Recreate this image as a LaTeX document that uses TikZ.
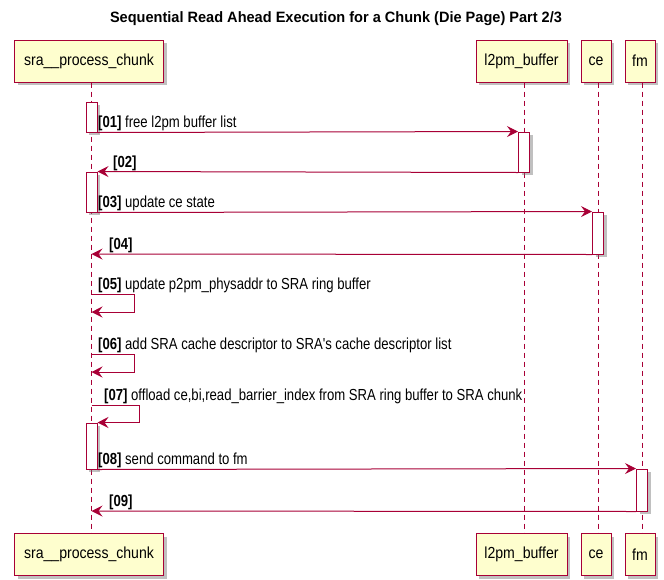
\documentclass[tikz,border=0pt]{standalone}
\usepackage{fontspec}
\setmainfont{Liberation Sans}
\newfontfamily\partfont[FakeStretch=0.88]{Liberation Sans}
\newfontfamily\lblfont[FakeStretch=0.82]{Liberation Sans}
\newfontfamily\titlefont[FakeStretch=0.97]{Liberation Sans}
\usetikzlibrary{arrows.meta,shadows}
\definecolor{pu}{HTML}{A80036}
\definecolor{pufill}{HTML}{FEFECE}
\begin{document}
\begin{tikzpicture}[x=1pt,y=-1pt,
  shad/.style={drop shadow={shadow xshift=3pt,shadow yshift=-3pt,fill=black!55,opacity=0.45}},
  part/.style={draw=pu,fill=pufill,line width=1pt,minimum height=42pt,inner sep=0pt,shad,
    font=\partfont\fontsize{16}{18}\selectfont},
  act/.style={draw=pu,fill=white,line width=1pt,minimum width=11pt,inner sep=0pt,shad},
  msg/.style={draw=pu,line width=1pt,-{Stealth[length=11pt,width=11pt,inset=4pt]}},
  life/.style={draw=pu,line width=1pt,dash pattern=on 5pt off 4pt},
  lbl/.style={anchor=base west,inner sep=0pt,font=\lblfont\fontsize{16}{18}\selectfont}]
\useasboundingbox (0,0) rectangle (664,579);
\node[font=\titlefont\bfseries\fontsize{15}{17}\selectfont,inner sep=0pt] (title) at (336,19) {Sequential Read Ahead Execution for a Chunk (Die Page) Part 2/3};
% participants
\node[part,minimum width=149pt] (sraT) at (89,61) {sra\_\_process\_chunk};
\node[part,minimum width=91pt] (l2T) at (521.5,61) {l2pm\_buffer};
\node[part,minimum width=30pt] (ceT) at (596,61) {ce};
\node[part,minimum width=30pt] (fmT) at (640,61) {fm};
\node[part,minimum width=149pt] (sraB) at (89,554.5) {sra\_\_process\_chunk};
\node[part,minimum width=91pt] (l2B) at (521.5,554.5) {l2pm\_buffer};
\node[part,minimum width=30pt] (ceB) at (596,554.5) {ce};
\node[part,minimum width=30pt] (fmB) at (640,554.5) {fm};
% lifelines
\draw[life] ([xshift=2.5pt]sraT.south) -- ([xshift=2.5pt]sraB.north);
\draw[life] ([xshift=2.5pt]l2T.south) -- ([xshift=2.5pt]l2B.north);
\draw[life] ([xshift=2pt]ceT.south) -- ([xshift=2pt]ceB.north);
\draw[life] ([xshift=2pt]fmT.south) -- ([xshift=2pt]fmB.north);
% activations
\node[act,minimum height=30pt] (a1) at (91.5,117) {};
\node[act,minimum height=40pt] (a2) at (91.5,192) {};
\node[act,minimum height=46pt] (a3) at (91.5,446) {};
\node[act,minimum height=40pt] (l1) at (524,152) {};
\node[act,minimum height=42pt] (c1) at (598,233) {};
\node[act,minimum height=42pt] (f1) at (642,490) {};
% messages
\draw[msg] (a1.south east) -- (l1.north west);
\node[lbl] (m1) at (98,127) {\textbf{[01]} free l2pm buffer list};
\draw[msg] (l1.south west) -- (a2.north east);
\node[lbl] (m2) at (113,167) {\textbf{[02]}};
\draw[msg] (a2.south east) -- (c1.north west);
\node[lbl] (m3) at (98,207) {\textbf{[03]} update ce state};
\coordinate (r4) at (91.5,254);
\draw[msg] (c1.south west) -- (r4);
\node[lbl] (m4) at (109,249) {\textbf{[04]}};
\coordinate (s5a) at (91.5,294);
\coordinate (s5b) at (91.5,312);
\draw[msg] (s5a) -- ++(42.5,0) |- (s5b);
\node[lbl] (m5) at (98,289) {\textbf{[05]} update p2pm\_physaddr to SRA ring buffer};
\coordinate (s6a) at (91.5,354);
\coordinate (s6b) at (91.5,372);
\draw[msg] (s6a) -- ++(42.5,0) |- (s6b);
\node[lbl] (m6) at (98,349) {\textbf{[06]} add SRA cache descriptor to SRA's cache descriptor list};
\coordinate (s7a) at (91.5,405);
\draw[msg] (s7a) -- ++(47.5,0) |- (a3.north east);
\node[lbl] (m7) at (104,400) {\textbf{[07]} offload ce,bi,read\_barrier\_index from SRA ring buffer to SRA chunk};
\draw[msg] (a3.south east) -- (f1.north west);
\node[lbl] (m8) at (98,464) {\textbf{[08]} send command to fm};
\coordinate (r9) at (91.5,511);
\draw[msg] (f1.south west) -- (r9);
\node[lbl] (m9) at (109,506) {\textbf{[09]}};
\end{tikzpicture}
\end{document}
